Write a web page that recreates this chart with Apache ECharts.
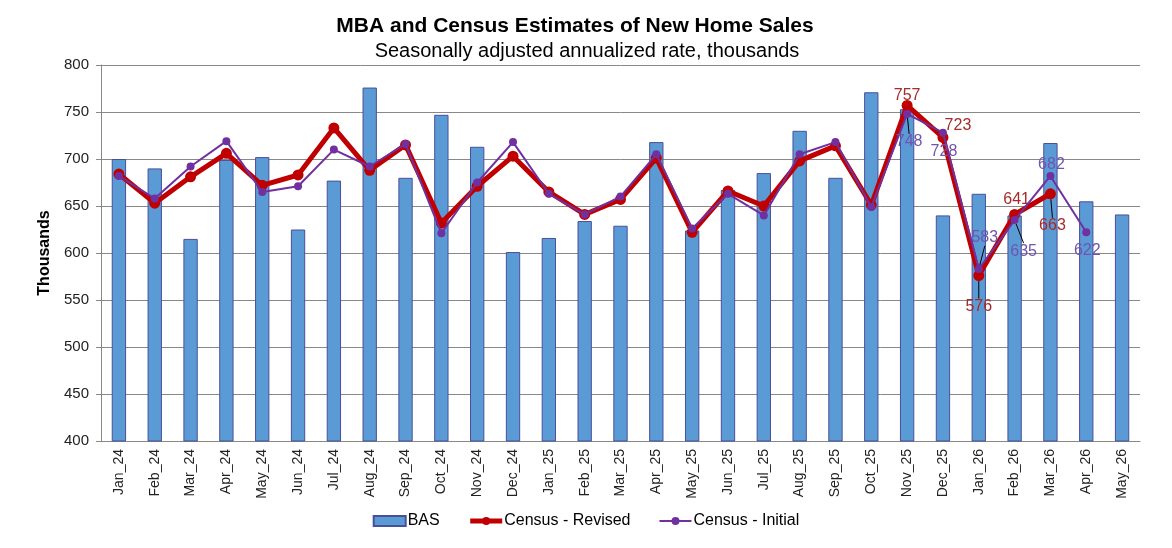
<!DOCTYPE html>
<html>
<head>
<meta charset="utf-8">
<script src="https://cdn.jsdelivr.net/npm/echarts@6/dist/echarts.min.js"></script>
<style>
  html, body { margin: 0; padding: 0; background: #fff; }
  #chart { width: 1172px; height: 548px; }
</style>
</head>
<body>
<div id="chart"></div>
<script>
const months = [
  "Jan_24", "Feb_24", "Mar_24", "Apr_24", "May_24", "Jun_24", "Jul_24", "Aug_24", "Sep_24", "Oct_24",
  "Nov_24", "Dec_24", "Jan_25", "Feb_25", "Mar_25", "Apr_25", "May_25", "Jun_25", "Jul_25", "Aug_25",
  "Sep_25", "Oct_25", "Nov_25", "Dec_25", "Jan_26", "Feb_26", "Mar_26", "Apr_26", "May_26"
];
const bas = [
  700, 690, 615, 699, 702, 625, 677, 776, 680, 747,
  713, 601, 616, 634, 629, 718, 624, 667, 685, 730,
  680, 771, 753, 640, 663, 640, 717, 655, 641
];
const censusRevised = [
  684, 653, 681, 706, 672, 683, 733, 688, 715, 632,
  671, 703, 665, 641, 657, 701, 622, 666, 650, 698,
  714, 651, 757, 723, 576, 641, 663, null, null
];
const censusInitial = [
  682, 658, 692, 719, 665, 671, 710, 692, 716, 621,
  675, 718, 663, 641, 660, 705, 626, 663, 640, 705,
  718, 649, 748, 728, 583, 635, 682, 622, null
];
const yTicks = { min: 400, max: 800, interval: 50 };

// where the value labels sit, relative to the point: [dx, dy, leader line]
const revisedLabelPos = { 22: [0, -10, false], 23: [15, -12, false], 24: [0, 31, true], 25: [2, -15, false], 26: [2, 32, true] };
const initialLabelPos = { 22: [2, 28, true], 23: [1, 19, false], 24: [6, -31, true], 25: [9, 31, true], 26: [1, -11, false], 27: [1, 18, false] };

function withLabels(values, pos, color) {
  return values.map((v, i) => {
    const p = pos[i];
    if (!p || v == null) return v;
    return {
      value: v,
      label: { show: true, position: "inside", color: color, fontSize: 16 },
      labelLine: { show: p[2], lineStyle: { color: "#000", width: 1 } }
    };
  });
}

function layoutFor(pos) {
  return (params) => {
    const p = pos[params.dataIndex];
    if (!p) return {};
    return { dx: p[0], dy: p[1] };
  };
}

const chart = echarts.init(document.getElementById("chart"));
const font = "Liberation Sans, Arial, sans-serif";

chart.setOption({
  animation: false,
  textStyle: { fontFamily: font },
  title: [
    {
      text: "MBA and Census Estimates of New Home Sales",
      left: 570, top: 11, textAlign: "center",
      textStyle: { fontSize: 21, fontWeight: "bold", color: "#000", fontFamily: font }
    },
    {
      text: "Seasonally adjusted annualized rate, thousands",
      left: 582, top: 36, textAlign: "center",
      textStyle: { fontSize: 20, fontWeight: "normal", color: "#000", fontFamily: font }
    }
  ],
  grid: { left: 101, right: 32, top: 65, bottom: 107 },
  legend: {
    bottom: 14,
    left: "center",
    itemWidth: 32,
    itemHeight: 10,
    itemGap: 28,
    textStyle: { fontSize: 16, color: "#000", padding: [0, 0, 0, -3] },
    data: [
      { name: "BAS", icon: "rect" },
      { name: "Census - Revised", lineStyle: { width: 5 } },
      { name: "Census - Initial", lineStyle: { width: 2 } }
    ]
  },
  xAxis: {
    type: "category",
    data: months,
    axisLine: { lineStyle: { color: "#888" } },
    axisTick: { show: false },
    axisLabel: { rotate: 90, fontSize: 14, color: "#222", margin: 8 }
  },
  yAxis: {
    type: "value",
    min: yTicks.min,
    max: yTicks.max,
    interval: yTicks.interval,
    name: "Thousands",
    nameLocation: "middle",
    nameGap: 46,
    nameTextStyle: { fontSize: 16, fontWeight: "bold", color: "#000" },
    axisLine: { show: true, lineStyle: { color: "#888" } },
    axisTick: { show: true, length: 5, lineStyle: { color: "#888" } },
    axisLabel: { fontSize: 15, color: "#222", margin: 12 },
    splitLine: { lineStyle: { color: "#888", width: 1 } }
  },
  series: [
    {
      name: "BAS",
      type: "bar",
      data: bas,
      barWidth: "40%",
      itemStyle: { color: "#5b9bd5", borderColor: "#4a4f9a", borderWidth: 1 }
    },
    {
      name: "Census - Revised",
      type: "line",
      data: withLabels(censusRevised, revisedLabelPos, "#a52a2a"),
      symbol: "circle",
      symbolSize: 11,
      lineStyle: { color: "#c00000", width: 5 },
      itemStyle: { color: "#c00000" },
      labelLayout: layoutFor(revisedLabelPos),
      z: 3
    },
    {
      name: "Census - Initial",
      type: "line",
      data: withLabels(censusInitial, initialLabelPos, "#6f55b0"),
      symbol: "circle",
      symbolSize: 8,
      lineStyle: { color: "#7030a0", width: 2 },
      itemStyle: { color: "#7030a0" },
      labelLayout: layoutFor(initialLabelPos),
      z: 4
    }
  ]
});
</script>
</body>
</html>
